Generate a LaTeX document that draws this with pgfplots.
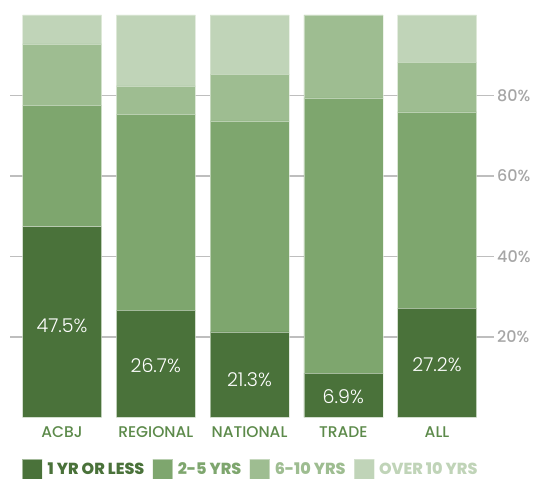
\documentclass[border=0pt]{standalone}
\usepackage{pgfplots}
\pgfplotsset{compat=1.18}
\usepackage{fontspec}
\setmainfont{Poppins}
\newfontfamily\lightfont{Poppins Light}
\newfontfamily\medfont{Poppins Medium}
\newfontfamily\xbfont{Poppins ExtraBold}
\definecolor{cA}{RGB}{74,114,58}
\definecolor{cB}{RGB}{126,166,110}
\definecolor{cC}{RGB}{158,189,145}
\definecolor{cD}{RGB}{192,212,184}
\definecolor{catgreen}{RGB}{92,138,74}
\definecolor{tickgray}{RGB}{166,166,166}
\definecolor{gridgray}{RGB}{190,190,190}
\definecolor{edge}{RGB}{225,235,220}
\begin{document}
\begin{tikzpicture}[x=1pt,y=1pt]
\useasboundingbox (-10,-61.5) rectangle (532,417.5);
\begin{axis}[
  at={(0,0)}, anchor=south west,
  scale only axis, width=484pt, height=402.5pt,
  xmin=-0.555, xmax=4.608, ymin=0, ymax=100,
  ybar stacked, bar width=79pt,
  axis line style={draw=none},
  major tick length=0pt,
  xtick={0,1,2,3,4},
  xticklabels={ACBJ,REGIONAL,NATIONAL,TRADE,ALL},
  xticklabel style={font=\medfont\fontsize{15.5}{17}\selectfont, text=catgreen, anchor=base, yshift=-20pt},
  ytick={20,40,60,80},
  yticklabels={20\%,40\%,60\%,80\%},
  yticklabel pos=right,
  yticklabel style={font=\medfont\fontsize{16}{18}\selectfont, text=tickgray, anchor=west, inner sep=0pt, xshift=3pt},
  ymajorgrids,
  grid style={color=gridgray, line width=1.5pt},
  legend columns=4,
  legend style={draw=none, fill=none, inner sep=0pt, at={(0.0248,-0.129)}, anchor=west,
    font=\xbfont\fontsize{16}{18}\selectfont,
    nodes={inner sep=0pt},
    /tikz/every odd column/.append style={column sep=5pt},
    /tikz/every even column/.append style={column sep=8pt}},
  legend image code/.code={\fill[#1] (0pt,-10pt) rectangle (20pt,10pt);},
]
\addplot[fill=cA, draw=edge, draw opacity=0.6, line width=0.4pt] coordinates {(0,47.5) (1,26.7) (2,21.3) (3,11.0) (4,27.2)};
\addlegendentry{\textcolor{cA}{1 YR OR LESS}}
\addplot[fill=cB, draw=edge, draw opacity=0.6, line width=0.4pt] coordinates {(0,30.1) (1,48.7) (2,52.4) (3,68.4) (4,48.7)};
\addlegendentry{\textcolor{cB}{2-5 YRS}}
\addplot[fill=cC, draw=edge, draw opacity=0.6, line width=0.4pt] coordinates {(0,15.2) (1,7.0) (2,11.6) (3,20.6) (4,12.4)};
\addlegendentry{\textcolor{cC}{6-10 YRS}}
\addplot[fill=cD, draw=edge, draw opacity=0.6, line width=0.4pt] coordinates {(0,7.2) (1,17.6) (2,14.7) (3,0) (4,11.7)};
\addlegendentry{\textcolor{cD}{OVER 10 YRS}}
\end{axis}
\begin{axis}[
  at={(0,0)}, anchor=south west,
  scale only axis, width=484pt, height=402.5pt,
  xmin=-0.555, xmax=4.608, ymin=0, ymax=100,
  hide axis,
]
\addplot[draw=none, mark=none, nodes near coords, point meta=explicit symbolic,
  nodes near coords align=center,
  every node near coord/.style={font=\lightfont\fontsize{19}{21}\selectfont, text=white, anchor=center}]
  coordinates {(0,22.7)[47.5\%] (1,13.0)[26.7\%] (2,9.3)[21.3\%] (3,5.1)[6.9\%] (4,13.0)[27.2\%]};
\end{axis}
\end{tikzpicture}
\end{document}
